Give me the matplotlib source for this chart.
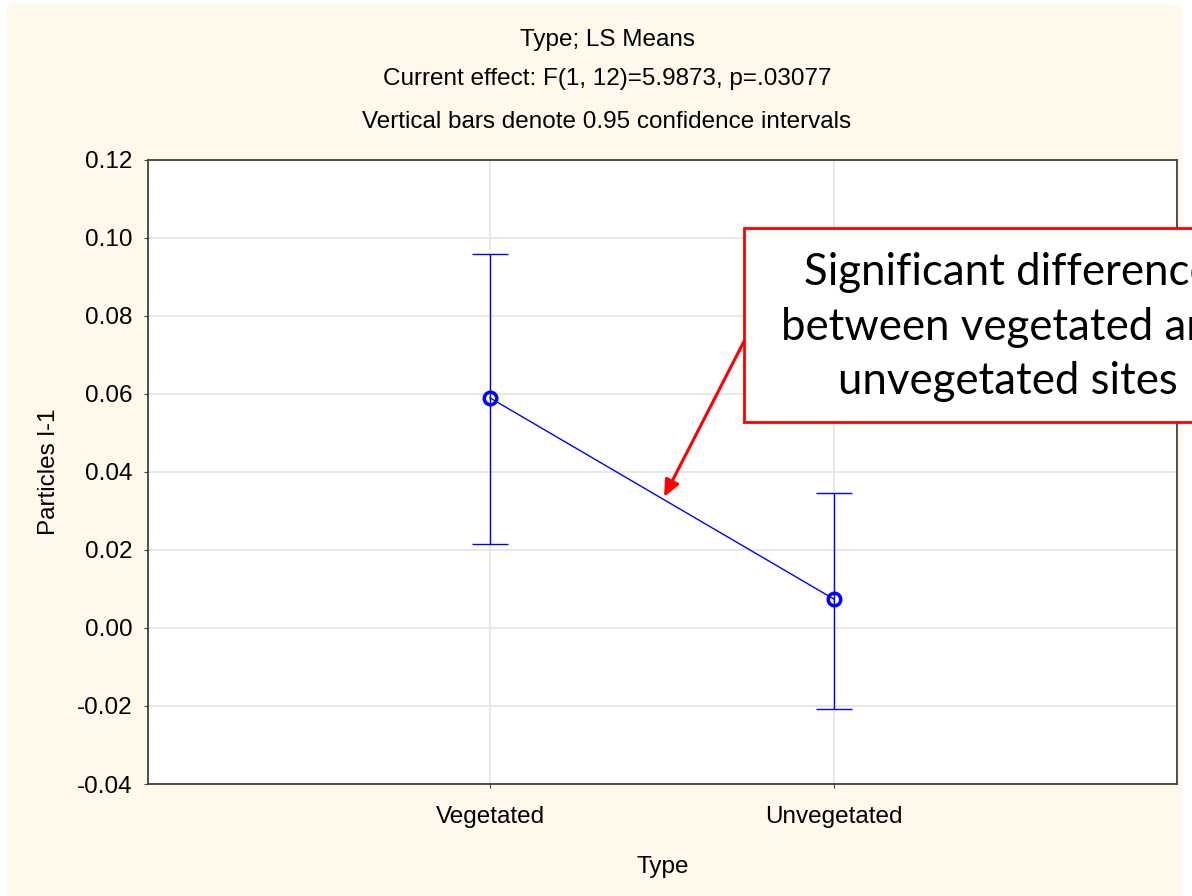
import matplotlib
matplotlib.use("Agg")
import matplotlib.pyplot as plt
from matplotlib.patches import Rectangle

types = ["Vegetated", "Unvegetated"]
means = [0.0590, 0.0074]
ci_low = [0.0215, -0.0208]
ci_high = [0.0960, 0.0346]
yticks = [-0.04, -0.02, 0.00, 0.02, 0.04, 0.06, 0.08, 0.10, 0.12]
titles = ["Type; LS Means",
          "Current effect: F(1, 12)=5.9873, p=.03077",
          "Vertical bars denote 0.95 confidence intervals"]
note = "Significant difference\nbetween vegetated and\nunvegetated sites"

plt.rcParams["font.family"] = ["Liberation Sans", "DejaVu Sans"]
W, H = 1192, 896
fs = 17.5
fig = plt.figure(figsize=(W / 100, H / 100), dpi=100, facecolor="white")
fig.patches.append(Rectangle((7 / W, 1 - 895 / H), 1174 / W, 890 / H,
                             transform=fig.transFigure, color="#FFF9EC", zorder=-10))

ax = fig.add_axes([148 / W, 1 - 784 / H, 1029 / W, 624 / H])
ax.set_facecolor("white")
x = list(range(len(types)))
err = [[m - lo for m, lo in zip(means, ci_low)], [hi - m for m, hi in zip(means, ci_high)]]
line, caps, bars = ax.errorbar(x, means, yerr=err, color="#0000FF", lw=1, elinewidth=1,
                               capsize=13, marker="o", ms=9, mfc="none", mec="#0000FF",
                               mew=2.5, zorder=3)
for c in caps:
    c.set_markeredgewidth(1)

ax.set_xlim(-0.994, 1.997)
ax.set_ylim(-0.04, 0.12)
ax.set_yticks(yticks)
ax.set_yticklabels([f"{v:.2f}" for v in yticks])
ax.set_xticks(x)
ax.set_xticklabels(types)
ax.grid(True, color="#E6E6E6", lw=1.3)
ax.set_axisbelow(True)
for s in ax.spines.values():
    s.set_color("#404040")
    s.set_linewidth(1.3)
ax.tick_params(axis="both", labelsize=fs, length=3, color="#404040", pad=8)
ax.tick_params(axis="x", pad=13)
ax.set_xlabel("Type", fontsize=fs, labelpad=20)
ax.set_ylabel("Particles l-1", fontsize=fs, labelpad=12)

for t, yp in zip(titles, [40, 79, 122]):
    fig.text(607 / W, 1 - yp / H, t, ha="center", va="center", fontsize=fs)

# annotation box, runs off the right edge like the slide
fig.patches.append(Rectangle((744 / W, 1 - 422 / H), 600 / W, 194 / H,
                             transform=fig.transFigure, facecolor="white",
                             edgecolor="#FF0000", lw=2, zorder=5))
fig.text(1008 / W, 1 - 327 / H, note, ha="center", va="center", fontsize=31.5,
         family=["Lato", "DejaVu Sans"], linespacing=1.4, zorder=6)
ax.annotate("", xy=(0.506, 0.0336), xytext=(0.739, 0.0736),
            arrowprops=dict(arrowstyle="-|>,head_length=1.0,head_width=0.45",
                            color="#FF0000", lw=2.2, shrinkA=0, shrinkB=0), zorder=6)

fig.savefig("out.png", dpi=100)
